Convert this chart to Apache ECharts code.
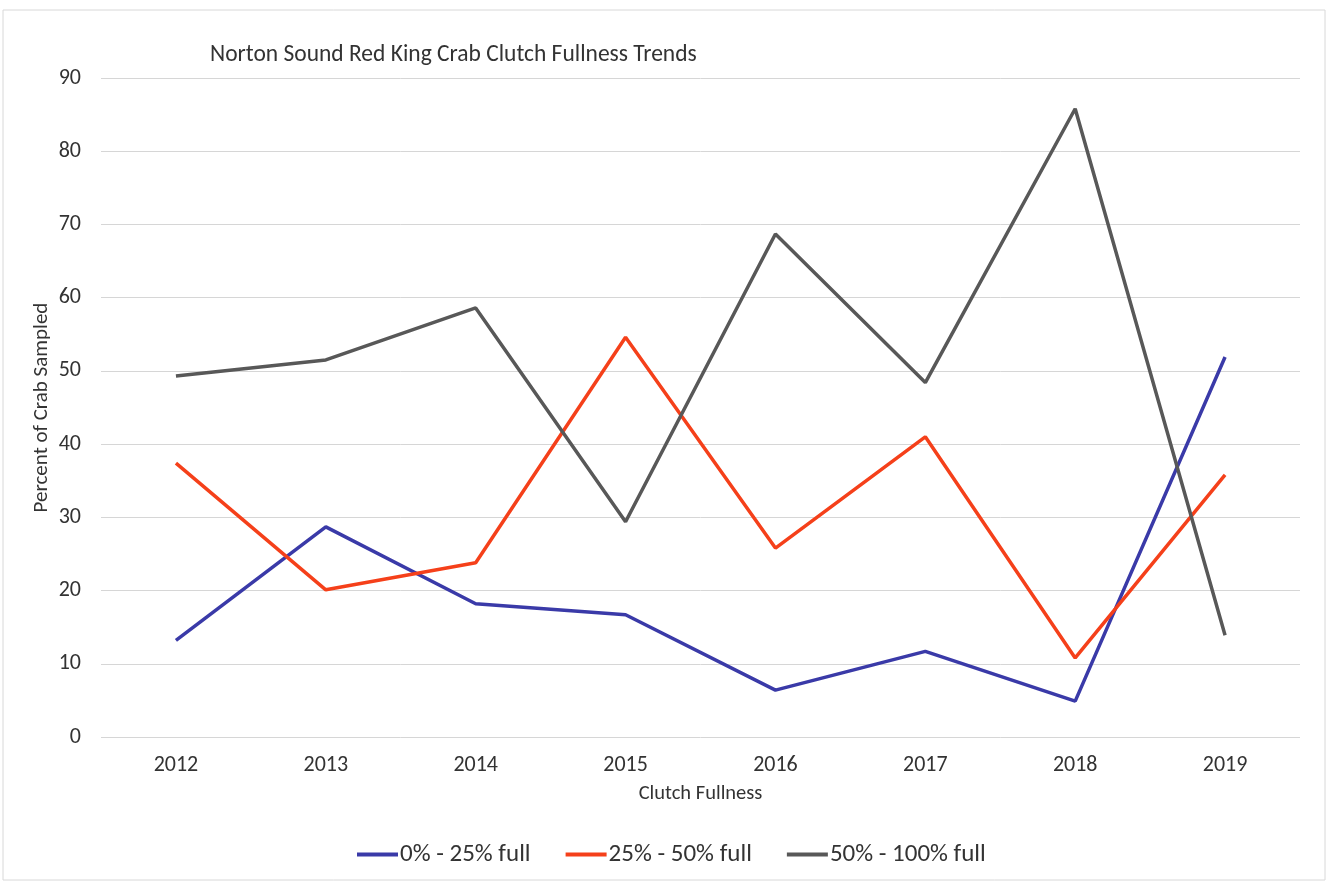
<!DOCTYPE html>
<html>
<head>
<meta charset="utf-8">
<script src="https://cdn.jsdelivr.net/npm/echarts@6/dist/echarts.min.js"></script>
<style>html,body{margin:0;padding:0;background:#fff}#c{width:1330px;height:884px}</style>
</head>
<body>
<div id="c"></div>
<script>
const categories = ['2012','2013','2014','2015','2016','2017','2018','2019'];
const seriesNames = ['0% - 25% full','25% - 50% full','50% - 100% full'];
const low = [13.2, 28.7, 18.2, 16.7, 6.4, 11.7, 4.9, 51.9];
const mid = [37.4, 20.1, 23.8, 54.6, 25.8, 41.0, 10.8, 35.8];
const high = [49.3, 51.5, 58.6, 29.4, 68.7, 48.4, 85.8, 13.9];
const yTicks = [0,10,20,30,40,50,60,70,80,90];
const colors = ['#3a3aa8','#f5401a','#585858'];

const chart = echarts.init(document.getElementById('c'));
const font = "Carlito, 'Open Sans', 'Noto Sans', sans-serif";
chart.setOption({
  animation:false,
  textStyle:{fontFamily:font},
  graphic:[{type:'rect',shape:{x:3,y:10,width:1322,height:870},style:{fill:'none',stroke:'#d8d8d8',lineWidth:1}}],
  title:{text:'Norton Sound Red King Crab Clutch Fullness Trends',left:205,top:38,textStyle:{fontSize:23.5,fontWeight:'normal',color:'#333',fontFamily:font}},
  grid:{left:101,right:30,top:78,bottom:147},
  legend:{top:837,left:352,itemWidth:41,itemHeight:4,itemGap:35,icon:'rect',
    textStyle:{fontSize:25,color:'#333',fontFamily:font,padding:[0,0,0,-3]},data:seriesNames},
  xAxis:{type:'category',data:categories,boundaryGap:true,
    name:'Clutch Fullness',nameLocation:'middle',nameGap:46,nameMoveOverlap:false,
    nameTextStyle:{fontSize:20.5,color:'#333',verticalAlign:'top'},
    axisLine:{show:false},axisTick:{show:false},
    axisLabel:{fontSize:22,color:'#333',margin:17}},
  yAxis:{type:'value',min:yTicks[0],max:yTicks[yTicks.length-1],interval:10,
    name:'Percent of Crab Sampled',nameLocation:'middle',nameGap:49,nameMoveOverlap:false,
    nameTextStyle:{fontSize:21,color:'#333'},
    axisLabel:{fontSize:22,color:'#333',margin:20},
    splitLine:{lineStyle:{color:'#d6d6d6',width:1}}},
  series:[
    {name:seriesNames[0],type:'line',data:low,symbol:'none',lineStyle:{width:3.5,color:colors[0]},itemStyle:{color:colors[0]}},
    {name:seriesNames[1],type:'line',data:mid,symbol:'none',lineStyle:{width:3.5,color:colors[1]},itemStyle:{color:colors[1]}},
    {name:seriesNames[2],type:'line',data:high,symbol:'none',lineStyle:{width:3.5,color:colors[2]},itemStyle:{color:colors[2]}}
  ]
});
</script>
</body>
</html>
